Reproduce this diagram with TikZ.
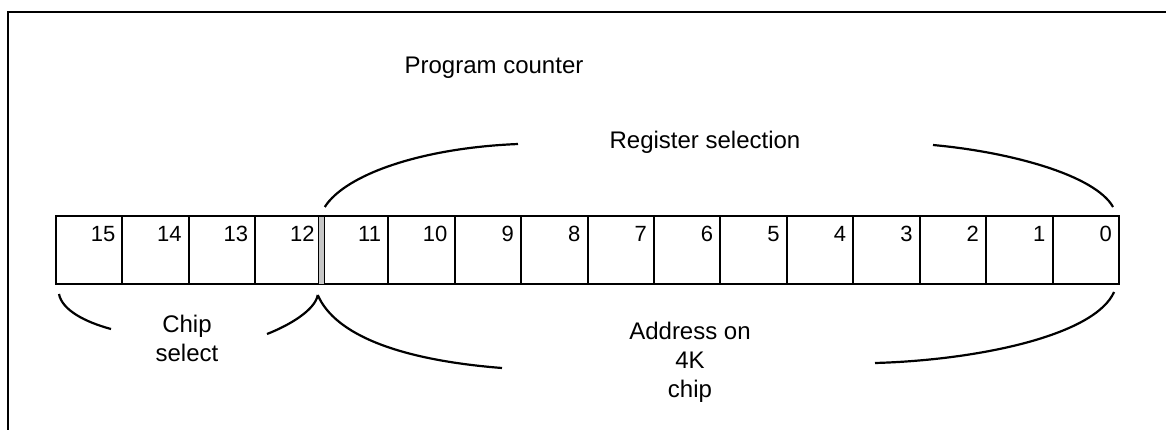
\documentclass[tikz,border=0pt]{standalone}
\usepackage{fontspec}
\setmainfont{Liberation Sans}
\usetikzlibrary{positioning}

\begin{document}
\begin{tikzpicture}[
  x=1pt,y=-1pt,
  cell/.style={draw,line width=2pt,minimum width=66.44pt,minimum height=68pt,outer sep=0pt,inner sep=0pt},
  bitno/.style={inner sep=0pt,anchor=north east,font=\fontsize{22}{22}\selectfont},
  lbl/.style={align=center,font=\fontsize{24}{29}\selectfont},
  brace/.style={line width=2.2pt}
]
  \useasboundingbox (0,0) rectangle (1166,429);
  % frame
  \draw[line width=2.8pt] (1170,12) -- (8,12) -- (8,432);
  \node[lbl] (pc) at (494,68) {Program counter};
  % register cells
  \node[cell,anchor=north west] (c15) at (56,216) {};
  \foreach \b [evaluate=\b as \p using int(\b+1)] in {14,...,0}
    \node[cell,right=0pt of c\p] (c\b) {};
  \foreach \b in {15,...,0}
    \node[bitno] (n\b) at ([xshift=-7pt,yshift=-10pt]c\b.north east) {\b};
  % chip select divider
  \draw[fill=gray!45,line width=1pt] ([xshift=-3pt]c12.north east) rectangle ([xshift=3pt]c12.south east);
  % register selection
  \node[lbl] (rs) at (705,142) {Register selection};
  \coordinate (rsL) at (518,144);
  \coordinate (rsR) at (933,145);
  \draw[brace] ([xshift=3pt,yshift=9pt]c12.north east) .. controls (345,175) and (420,148) .. (rsL);
  \draw[brace] (rsR) .. controls (1010,152) and (1095,175) .. ([xshift=-6pt,yshift=9pt]c0.north east);
  % chip select
  \node[lbl] (cs) at (187,338) {Chip\\select};
  \coordinate (csL) at (111,329);
  \coordinate (csR) at (267,334);
  \draw[brace] ([xshift=3pt,yshift=-10pt]c15.south west) .. controls (62,310) and (85,322) .. (csL);
  \draw[brace] (csR) .. controls (290,325) and (315,310) .. ([xshift=-4pt,yshift=-11pt]c12.south east);
  % address on chip
  \node[lbl] (adr) at (690,362) {Address on\\4K\\chip};
  \coordinate (adL) at (502,368);
  \coordinate (adR) at (875,363);
  \draw[brace] ([xshift=-4pt,yshift=-11pt]c12.south east) .. controls (335,335) and (400,360) .. (adL);
  \draw[brace] (adR) .. controls (980,360) and (1095,335) .. ([xshift=-5pt,yshift=-8pt]c0.south east);
\end{tikzpicture}
\end{document}
